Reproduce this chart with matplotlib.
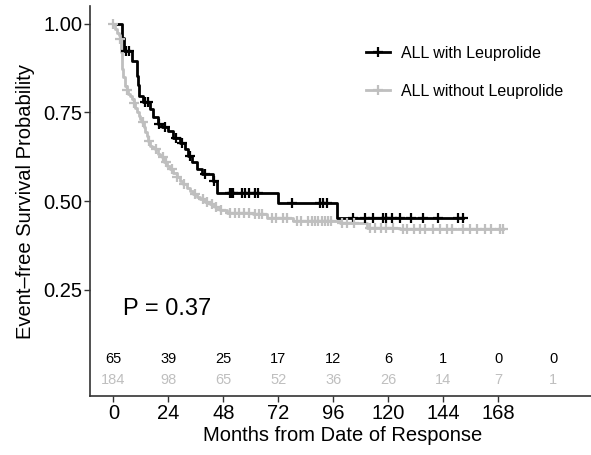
import numpy as np
import matplotlib.pyplot as plt
from matplotlib.lines import Line2D

plt.rcParams["font.family"] = ["Liberation Sans", "DejaVu Sans"]

# Kaplan-Meier steps (months, survival after the drop)
black_times = [3.7, 4.7, 8.0, 10.2, 10.8, 11.3, 12.8, 16.0, 17.3, 19.5, 21.1, 23.9,
               26.0, 29.1, 31.3, 32.6, 34.2, 36.4, 38.6, 43.5, 45.1, 72.0, 97.5]
black_surv = [0.960, 0.924, 0.896, 0.854, 0.826, 0.797, 0.780, 0.759, 0.737, 0.717,
              0.709, 0.698, 0.679, 0.665, 0.646, 0.627, 0.609, 0.590, 0.575, 0.556,
              0.524, 0.495, 0.453]
black_end = 152.6
black_censor = [5.5, 7.0, 14.0, 15.0, 20.0, 22.5, 27.5, 30.0, 33.5, 40.0, 44.0,
                50.9, 51.8, 52.4, 56.0, 57.5, 59.0, 61.8, 63.0,
                77.8, 90.2, 91.6, 93.1,
                104.7, 109.8, 113.4, 117.8, 119.0,
                121.5, 125.1, 130.0, 135.3, 141.8, 150.5, 152.6]

gray_times = [0.8, 1.6, 2.3, 2.9, 3.3, 3.7, 4.4, 5.1, 5.8, 6.6, 7.3, 8.0, 8.8, 9.5,
              10.2, 11.0, 11.7, 12.4, 13.2, 13.9, 14.6, 15.3, 16.0, 17.0, 18.2, 19.5,
              20.3, 21.1, 22.2, 23.3, 24.7, 26.2, 27.6, 29.1, 30.5, 32.0, 33.5, 34.9,
              36.3, 37.8, 40.0, 42.2, 44.4, 46.6, 49.5, 61.1, 66.9, 78.4, 98.9,
              110.6, 125.1]
gray_surv = [0.984, 0.973, 0.967, 0.958, 0.920, 0.873, 0.851, 0.825, 0.812, 0.801,
             0.795, 0.788, 0.776, 0.763, 0.750, 0.741, 0.731, 0.722, 0.709, 0.696,
             0.684, 0.670, 0.656, 0.651, 0.646, 0.634, 0.629, 0.623, 0.611, 0.599,
             0.590, 0.580, 0.568, 0.556, 0.547, 0.538, 0.528, 0.519, 0.512, 0.505,
             0.498, 0.491, 0.483, 0.476, 0.467, 0.462, 0.453, 0.443, 0.439, 0.425,
             0.420]
gray_end = 170.2
gray_censor = [0.0, 3.0, 6.0, 9.0, 12.8, 15.7, 18.8, 21.5, 23.0,
               25.5, 28.0, 31.0, 35.5, 39.0, 41.0, 43.0, 45.0, 47.0,
               51.0, 53.0, 55.0, 57.0, 59.0, 61.9, 63.5, 65.0, 69.1, 71.0,
               74.2, 75.6, 80.0, 82.0, 85.1, 86.6, 88.0, 89.5, 90.9, 92.4, 93.8, 95.0,
               100.0, 102.0, 105.0, 112.0, 114.0, 117.0, 119.0,
               122.0, 126.5, 128.0, 131.0, 134.0, 136.0, 139.6, 142.5,
               145.5, 148.0, 152.7, 155.6, 158.5, 162.0, 165.0, 168.7, 170.2]

labels = ["ALL with Leuprolide", "ALL without Leuprolide"]
risk_times = [0, 24, 48, 72, 96, 120, 144, 168, 192]
risk_black = [65, 39, 25, 17, 12, 6, 1, 0, 0]
risk_gray = [184, 98, 65, 52, 36, 26, 14, 7, 1]
p_text = "P = 0.37"

BLACK = "#000000"
GRAY = "#BFBFBF"


def surv_at(times, surv, t):
    s = np.r_[1.0, surv]
    idx = np.searchsorted(times, t, side="right")
    return s[idx]


def draw_curve(ax, times, surv, end, censor, color):
    x = np.r_[0.0, times, end]
    y = np.r_[1.0, surv, surv[-1]]
    ax.step(x, y, where="post", color=color, lw=2.0, zorder=3)
    cy = surv_at(np.asarray(times), surv, np.asarray(censor))
    ax.plot(censor, cy, ls="none", marker="+", ms=7.5, mew=1.6, color=color, zorder=4)


def main():
    fig = plt.figure(figsize=(5.91, 4.55), dpi=100)
    ax = fig.add_axes([0.153, 0.1297, 0.853, 0.857])

    draw_curve(ax, black_times, black_surv, black_end, black_censor, BLACK)
    draw_curve(ax, gray_times, gray_surv, gray_end, gray_censor, GRAY)

    for t, nb, ng in zip(risk_times, risk_black, risk_gray):
        ax.text(t, 0.055, str(nb), color=BLACK, fontsize=10.5, ha="center", va="center")
        ax.text(t, -0.004, str(ng), color=GRAY, fontsize=10.5, ha="center", va="center")

    ax.text(4.3, 0.196, p_text, fontsize=17, ha="left", va="center")

    handles = [Line2D([], [], color=c, lw=2.0, marker="+", ms=7.5, mew=1.6)
               for c in (BLACK, GRAY)]
    ax.legend(handles, labels, loc="upper left", bbox_to_anchor=(0.518, 0.935),
              frameon=False, fontsize=11.5, handlelength=1.5, handletextpad=0.7,
              labelspacing=1.45)

    ax.set_xlim(-10, 210)
    ax.set_ylim(-0.05, 1.05)
    ax.set_xticks([0, 24, 48, 72, 96, 120, 144, 168])
    ax.set_yticks([0.25, 0.50, 0.75, 1.00])
    ax.set_yticklabels(["0.25", "0.50", "0.75", "1.00"])
    ax.set_xlabel("Months from Date of Response", fontsize=14.5, labelpad=2)
    ax.set_ylabel("Event–free Survival Probability", fontsize=14.5, labelpad=6)

    for side in ("top", "right"):
        ax.spines[side].set_visible(False)
    for side in ("left", "bottom"):
        ax.spines[side].set_color("#333333")
        ax.spines[side].set_linewidth(1.2)
    ax.tick_params(length=4, width=1, color="#333333", labelsize=14.5, pad=2)

    fig.savefig("out.png", dpi=100)


if __name__ == "__main__":
    main()
